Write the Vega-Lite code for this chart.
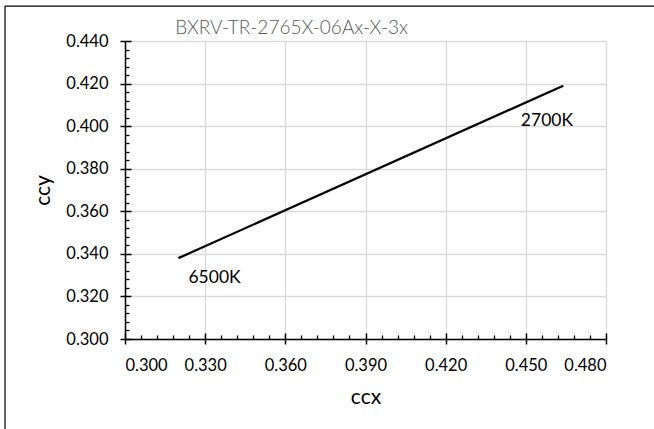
{
  "$schema": "https://vega.github.io/schema/vega-lite/v6.json",
  "autosize": {"type": "none"},
  "padding": {"left": 125, "top": 41, "right": 48, "bottom": 90},
  "width": 481,
  "height": 298,
  "background": "white",
  "title": {
    "text": "BXRV-TR-2765X-06Ax-X-3x",
    "anchor": "middle",
    "dx": -74,
    "dy": 39,
    "offset": 6,
    "font": "Lato",
    "fontSize": 19,
    "fontWeight": 300,
    "color": "#595959"
  },
  "config": {
    "view": {"stroke": null},
    "axis": {"labelFont": "Lato", "titleFont": "Lato", "labelColor": "#000000", "titleColor": "#000000"}
  },
  "datasets": {
    "line": [
      {"ccx": 0.320, "ccy": 0.338},
      {"ccx": 0.464, "ccy": 0.419}
    ],
    "labels": [
      {"ccx": 0.3335, "ccy": 0.3288, "label": "6500K"},
      {"ccx": 0.4579, "ccy": 0.4026, "label": "2700K"}
    ],
    "frame": [
      {"left": 0.2551, "right": 0.5, "top": 0.4564, "bottom": 0.25}
    ]
  },
  "resolve": {"axis": {"x": "independent", "y": "independent"}},
  "layer": [
    {
      "data": {"name": "line"},
      "mark": {"type": "line", "color": "#000000", "strokeWidth": 2.25},
      "encoding": {
        "x": {
          "field": "ccx", "type": "quantitative",
          "scale": {"domain": [0.3, 0.48], "nice": false, "zero": false},
          "axis": {
            "orient": "bottom",
            "title": "ccx", "titleFontSize": 21, "titleFontWeight": "normal", "titlePadding": 13,
            "values": [0.3, 0.33, 0.36, 0.39, 0.42, 0.45, 0.48],
            "format": ".3f", "labelFontSize": 16.5, "labelPadding": 13,
            "grid": true, "gridColor": "#d9d9d9", "gridWidth": 1.3,
            "domainColor": "#000000", "domainWidth": 1.5,
            "tickColor": "#000000", "tickWidth": 1.5, "tickSize": 5
          }
        },
        "y": {
          "field": "ccy", "type": "quantitative",
          "scale": {"domain": [0.3, 0.44], "nice": false, "zero": false},
          "axis": {
            "orient": "left",
            "title": "ccy", "titleFontSize": 21, "titleFontWeight": "normal", "titlePadding": 12,
            "values": [0.3, 0.32, 0.34, 0.36, 0.38, 0.4, 0.42, 0.44],
            "format": ".3f", "labelFontSize": 16.5, "labelPadding": 12,
            "grid": true, "gridColor": "#d9d9d9", "gridWidth": 1.3,
            "domainColor": "#000000", "domainWidth": 1.5,
            "tickColor": "#000000", "tickWidth": 1.5, "tickSize": 5
          }
        }
      }
    },
    {
      "data": {"name": "line"},
      "mark": {"type": "line", "opacity": 0},
      "encoding": {
        "x": {
          "field": "ccx", "type": "quantitative",
          "axis": {
            "orient": "bottom", "title": null, "labels": false, "domain": false, "grid": false,
            "values": [0.3, 0.33, 0.36, 0.39, 0.42, 0.45, 0.48],
            "tickColor": "#000000", "tickWidth": 1.5, "tickSize": -6
          }
        },
        "y": {
          "field": "ccy", "type": "quantitative",
          "axis": {
            "orient": "left", "title": null, "labels": false, "domain": false, "grid": false,
            "values": [0.3, 0.32, 0.34, 0.36, 0.38, 0.4, 0.42, 0.44],
            "tickColor": "#000000", "tickWidth": 1.5, "tickSize": -6
          }
        }
      }
    },
    {
      "data": {"name": "line"},
      "mark": {"type": "line", "opacity": 0},
      "encoding": {
        "x": {
          "field": "ccx", "type": "quantitative",
          "axis": {
            "orient": "bottom", "title": null, "labels": false, "domain": false, "grid": false,
            "values": [0.306, 0.312, 0.318, 0.324, 0.336, 0.342, 0.348, 0.354, 0.366, 0.372, 0.378, 0.384, 0.396, 0.402, 0.408, 0.414, 0.426, 0.432, 0.438, 0.444, 0.456, 0.462, 0.468, 0.474],
            "tickColor": "#000000", "tickWidth": 1.3, "tickSize": -4
          }
        },
        "y": {
          "field": "ccy", "type": "quantitative",
          "axis": {
            "orient": "left", "title": null, "labels": false, "domain": false, "grid": false,
            "values": [0.304, 0.308, 0.312, 0.316, 0.324, 0.328, 0.332, 0.336, 0.344, 0.348, 0.352, 0.356, 0.364, 0.368, 0.372, 0.376, 0.384, 0.388, 0.392, 0.396, 0.404, 0.408, 0.412, 0.416, 0.424, 0.428, 0.432, 0.436],
            "tickColor": "#000000", "tickWidth": 1.3, "tickSize": -4
          }
        }
      }
    },
    {
      "data": {"name": "labels"},
      "mark": {"type": "text", "font": "Lato", "fontSize": 17.5, "color": "#000000", "align": "center", "baseline": "middle"},
      "encoding": {
        "x": {"field": "ccx", "type": "quantitative", "axis": null},
        "y": {"field": "ccy", "type": "quantitative", "axis": null},
        "text": {"field": "label"}
      }
    },
    {
      "data": {"name": "frame"},
      "mark": {"type": "rule", "color": "#000000", "strokeWidth": 1.2, "clip": false},
      "encoding": {
        "x": {"field": "left", "type": "quantitative", "axis": null},
        "x2": {"field": "right"},
        "y": {"field": "top", "type": "quantitative", "axis": null}
      }
    },
    {
      "data": {"name": "frame"},
      "mark": {"type": "rule", "color": "#000000", "strokeWidth": 1.2, "clip": false},
      "encoding": {
        "x": {"field": "left", "type": "quantitative", "axis": null},
        "y": {"field": "top", "type": "quantitative", "axis": null},
        "y2": {"field": "bottom"}
      }
    }
  ]
}
